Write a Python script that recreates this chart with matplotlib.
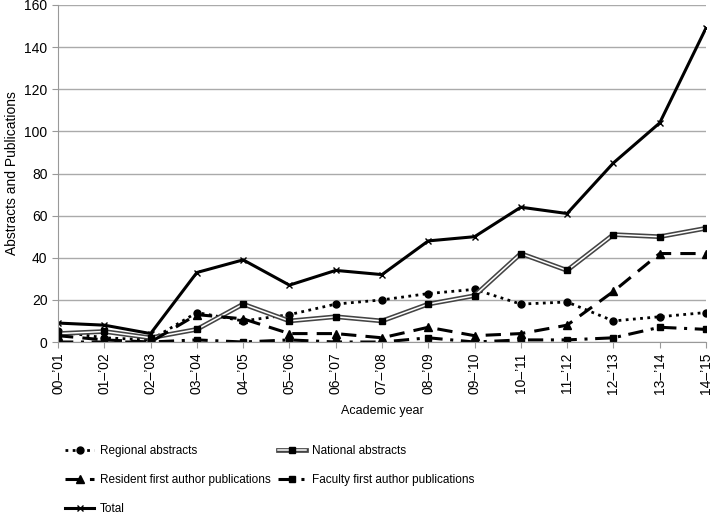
import numpy as np
import matplotlib
matplotlib.use("Agg")
from matplotlib import pyplot as plt
import matplotlib.patheffects as pe
from matplotlib import font_manager as fm
from matplotlib.legend_handler import HandlerTuple

plt.rcParams["font.family"] = ["Liberation Sans", "DejaVu Sans"]
plt.rcParams["font.size"] = 10

years = ["00–’01", "01–’02", "02–’03", "03–’04", "04–’05", "05–’06", "06–’07",
         "07–’08", "08–’09", "09–’10", "10–’11", "11–’12", "12–’13", "13–’14", "14–’15"]

regional = [5, 2, 1, 14, 10, 13, 18, 20, 23, 25, 18, 19, 10, 12, 14]
national = [4, 5, 2, 6, 18, 10, 12, 10, 18, 22, 42, 34, 51, 50, 54]
resident = [3, 1, 0, 13, 11, 4, 4, 2, 7, 3, 4, 8, 24, 42, 42]
faculty = [0, 0, 0, 1, 0, 1, 0, 0, 2, 0, 1, 1, 2, 7, 6]
total = [9, 8, 4, 33, 39, 27, 34, 32, 48, 50, 64, 61, 85, 104, 149]

fig = plt.figure(figsize=(7.12, 5.14), dpi=100)
ax = fig.add_axes([0.0815, 0.3346, 0.910, 0.6557])

x = np.arange(len(years))

l_reg, = ax.plot(x, regional, color="black", lw=2, ls=(0, (1, 1.6)),
                 marker="o", ms=5)
# national abstracts: double line = grey stroke with white core
l_nat_line, = ax.plot(x, national, color="white", lw=1.1,
                      path_effects=[pe.Stroke(linewidth=3.4, foreground="#444444"), pe.Normal()])
l_nat_mk, = ax.plot(x, national, ls="none", marker="s", ms=5, color="black")
l_res, = ax.plot(x, resident, color="black", lw=2.2, ls=(0, (5, 3)),
                 marker="^", ms=5.5)
l_fac, = ax.plot(x, faculty, color="black", lw=2.2, ls=(0, (5, 2.5, 1, 2.5)),
                 marker="s", ms=5)
l_tot, = ax.plot(x, total, color="black", lw=2.2, marker="x", ms=5, mew=1)

ax.set_xlim(0, len(years) - 1)
ax.set_ylim(0, 160)
ax.set_yticks(range(0, 161, 20))
ax.set_xticks(x)
ax.set_xticklabels(years, rotation=90)
ax.yaxis.grid(True, color="#aaaaaa", lw=1)
ax.set_axisbelow(True)
for s in ["top", "right"]:
    ax.spines[s].set_visible(False)
for s in ["left", "bottom"]:
    ax.spines[s].set_color("#999999")
ax.tick_params(axis="both", color="#999999", length=4, labelsize=10)

ax.set_xlabel("Academic year", fontsize=9, labelpad=8)
ax.set_ylabel("Abstracts and Publications", fontsize=10, labelpad=4)

handles = [l_reg, l_res, l_tot, (l_nat_line, l_nat_mk), l_fac]
labels = ["Regional abstracts", "Resident first author publications", "Total",
          "National abstracts", "Faculty first author publications"]
fig.legend(handles, labels, ncol=2, frameon=False,
           loc="center left", bbox_to_anchor=(0.077, 0.066),
           prop=fm.FontProperties(size=8.5),
           handlelength=2.4, handletextpad=0.5, columnspacing=0.6, labelspacing=1.43,
           handler_map={tuple: HandlerTuple(ndivide=1)})

fig.savefig("out.png", dpi=100)
